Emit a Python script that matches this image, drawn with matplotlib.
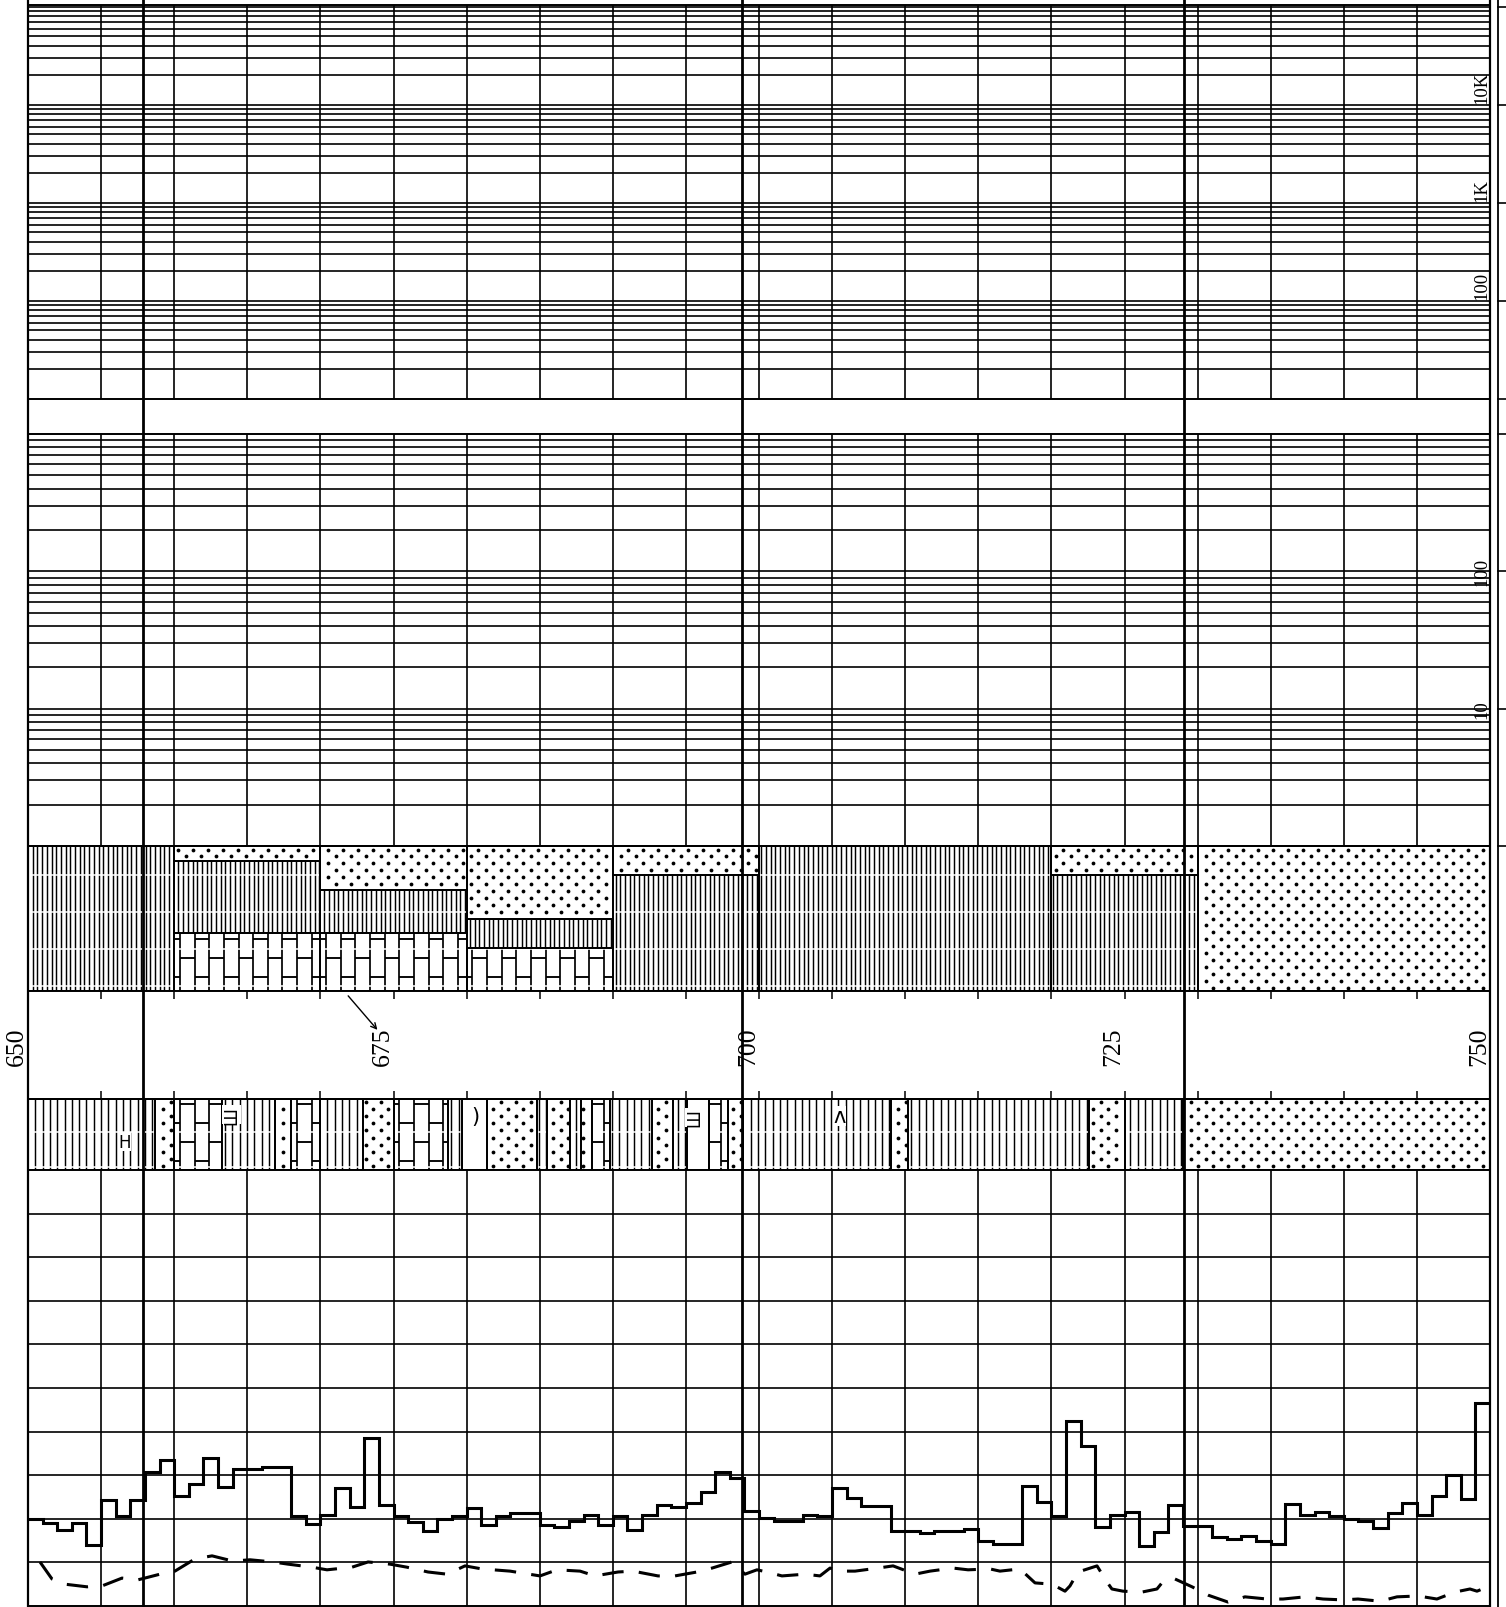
import numpy as np
import matplotlib
matplotlib.use("Agg")
import matplotlib.pyplot as plt
from matplotlib.lines import Line2D
from matplotlib.patches import Rectangle

plt.rcParams["font.family"] = ["Liberation Serif", "DejaVu Serif", "DejaVu Sans"]

# ---------------- data ----------------
depth_range = (650, 750)
depth_labels = [650, 675, 700, 725, 750]
splice_depths = [657.9, 698.85, 729.05]

# resistivity grids (log scales)
deep_limits = (10, 10 ** 5.02)
deep_decades = [10, 100, 1000, 10000, 100000]
deep_labels = [(10000, "10K"), (1000, "1K"), (100, "100")]
shallow_limits = (1, 1000)
shallow_decades = [1, 10, 100, 1000]
shallow_labels = [(100, "100"), (10, "10")]

# interpreted lithology, percent of each interval
lith_top = [650, 660, 670, 680, 690, 700, 720, 730]
lith_base = [660, 670, 680, 690, 700, 720, 730, 750]
lith_sand = [0, 10, 30, 50, 20, 0, 20, 100]
lith_shale = [100, 50, 30, 20, 80, 100, 80, 0]
lith_lime = [0, 40, 40, 30, 0, 0, 0, 0]

# described lithology column
desc_top = [650.0, 658.7, 660.0, 663.3, 666.9, 668.0, 670.0, 672.9, 675.0,
            678.7, 679.7, 681.4, 684.8, 685.5, 687.1, 687.8, 688.6, 689.8,
            692.7, 694.1, 695.1, 696.6, 697.9, 698.9, 709.0, 710.2, 722.6,
            725.0, 729.0]
desc_base = desc_top[1:] + [750.0]
desc_rock = ["sh", "ss", "ls", "sh", "ss", "ls", "sh", "ss", "ls",
             "sh", "bl", "ss", "sh", "ss", "sh", "ss", "ls", "sh",
             "ss", "sh", "bl", "ls", "ss", "sh", "ss", "sh", "ss",
             "sh", "ss"]

# accessory symbols in the described column
sym_depth = [656.6, 663.9, 680.6, 695.6, 705.5]
sym_level = [40, 78, 76, 74, 76]
sym_text = ["H", "Ш", ")", "Ш", "ʌ"]
sym_rot = [0, 90, 0, 90, 0]
sym_size = [12, 12, 15, 12, 15]

# stepped curve, one sample per metre
curve_edges = np.arange(650, 751)
curve_vals = [2.0, 1.9, 1.75, 1.9, 1.4, 2.43, 2.07, 2.43, 3.07, 3.35,
              2.52, 2.8, 3.4, 2.73, 3.14, 3.14, 3.18, 3.18, 2.07, 1.89,
              2.09, 2.7, 2.27, 3.85, 2.32, 2.07, 1.92, 1.72, 2.0, 2.07,
              2.25, 1.86, 2.07, 2.13, 2.13, 1.86, 1.81, 1.95, 2.09, 1.86,
              2.06, 1.74, 2.09, 2.32, 2.27, 2.36, 2.61, 3.07, 2.93, 2.18,
              2.02, 1.95, 1.95, 2.09, 2.06, 2.7, 2.48, 2.3, 2.3, 1.72,
              1.72, 1.67, 1.72, 1.72, 1.77, 1.49, 1.42, 1.42, 2.75, 2.38,
              2.07, 4.24, 3.67, 1.81, 2.09, 2.16, 1.38, 1.7, 2.32, 1.84,
              1.84, 1.58, 1.54, 1.6, 1.49, 1.42, 2.34, 2.09, 2.16, 2.06,
              2.0, 1.95, 1.79, 2.13, 2.36, 2.09, 2.52, 3.0, 2.45, 4.66]

# dashed curve
dash_depth = [650.82, 651.64, 652.53, 654.04, 655.06, 656.43, 657.52, 659.03, 660.05, 661.42,
              662.59, 664.02, 665.18, 666.76, 667.78, 669.43, 670.45, 672.16, 673.26, 674.76,
              675.92, 677.36, 678.66, 679.89, 681.05, 682.97, 685.02, 686.18, 687.76, 688.78,
              690.36, 691.38, 693.09, 694.25, 695.76, 696.79, 698.15, 699.04, 699.86, 700.55,
              701.57, 703.15, 704.17, 704.86, 705.54, 706.57, 708.14, 709.17, 710.67, 711.70,
              713.27, 714.30, 715.80, 716.48, 717.85, 718.88, 720.04, 720.93, 721.27, 721.82,
              723.12, 723.80, 724.14, 724.90, 726.20, 727.22, 727.56, 728.32, 729.62, 730.71,
              732.08, 733.24, 734.75, 735.84, 737.35, 738.58, 739.95, 740.97, 742.48, 743.64,
              745.08, 746.37, 747.61, 748.63, 749.11, 750.0]
dash_vals = [1.01, 0.62, 0.50, 0.44, 0.46, 0.64, 0.60, 0.73, 0.80, 1.08,
             1.15, 1.03, 1.06, 1.01, 0.96, 0.89, 0.83, 0.89, 1.01, 0.96,
             0.89, 0.78, 0.73, 0.92, 0.85, 0.80, 0.69, 0.83, 0.80, 0.69,
             0.78, 0.80, 0.69, 0.69, 0.78, 0.87, 1.01, 0.73, 0.83, 0.78,
             0.69, 0.73, 0.69, 0.87, 0.80, 0.80, 0.87, 0.92, 0.73, 0.80,
             0.87, 0.83, 0.85, 0.80, 0.85, 0.53, 0.50, 0.34, 0.46, 0.78,
             0.92, 0.55, 0.39, 0.34, 0.32, 0.39, 0.53, 0.64, 0.44, 0.25,
             0.09, 0.21, 0.16, 0.16, 0.21, 0.16, 0.14, 0.16, 0.11, 0.21,
             0.23, 0.16, 0.32, 0.39, 0.34, 0.46]

# ---------------- layout ----------------
W, H = 1506, 1608
fig = plt.figure(figsize=(W / 100, H / 100), dpi=100)
fig.patch.set_facecolor("white")

GRID_LW = 1.2
FRAME_LW = 1.4


def axes_at(x0, y0, x1, y1, **kw):
    return fig.add_axes([x0 / W, 1 - y1 / H, (x1 - x0) / W, (y1 - y0) / H], **kw)


def bare(ax):
    ax.set_xlim(*depth_range)
    ax.tick_params(left=False, bottom=False, labelleft=False, labelbottom=False,
                   which="both")
    for s in ax.spines.values():
        s.set_linewidth(FRAME_LW)


def depth_grid(ax):
    ax.vlines(np.arange(655, 750, 5), 0, 1, transform=ax.get_xaxis_transform(),
              color="k", lw=GRID_LW, zorder=1)


def log_grid(ax, decades):
    lo, hi = ax.get_ylim()
    for d in decades:
        for k in range(1, 10):
            v = k * d
            if lo < v < hi:
                ax.axhline(v, color="k", lw=GRID_LW, zorder=1)


def px_scale(ax):
    pos = ax.get_position()
    x0, x1 = ax.get_xlim()
    y0, y1 = ax.get_ylim()
    return pos.width * W / (x1 - x0), pos.height * H / (y1 - y0)


def shale(ax, x0, x1, y0, y1, spacing_px):
    sx, _ = px_scale(ax)
    step = spacing_px / sx
    ks = np.arange(np.floor((x0 - 650) / step), np.ceil((x1 - 650) / step) + 1)
    xs = 650 + ks * step
    xs = xs[(xs > x0 + 0.6 / sx) & (xs < x1 - 0.6 / sx)]
    ax.vlines(xs, y0, y1, color="k", lw=1.05, zorder=2)


def sand(ax, x0, x1, y0, y1, dx_px=15.0, dy_px=6.9):
    sx, sy = px_scale(ax)
    dx, dy = dx_px / sx, dy_px / sy
    pts_x, pts_y = [], []
    for r in range(int(np.floor(y0 / dy)) - 1, int(np.ceil(y1 / dy)) + 2):
        yy = (r + 0.5) * dy
        if not (y0 + 2.2 / sy < yy < y1 - 2.2 / sy):
            continue
        shift = 0.5 * dx if r % 2 else 0.0
        ks = np.arange(np.floor((x0 - 650) / dx) - 1, np.ceil((x1 - 650) / dx) + 2)
        xx = 650 + ks * dx + shift
        xx = xx[(xx > x0 + 2.2 / sx) & (xx < x1 - 2.2 / sx)]
        pts_x.extend(xx)
        pts_y.extend([yy] * len(xx))
    ax.scatter(pts_x, pts_y, s=7.5, c="k", marker="o", linewidths=0, zorder=2)


def brick(ax, x0, x1, y0, y1, period, off_even, off_odd, col0=650.4, col_w=1.0):
    k0 = int(np.floor((x0 - col0) / col_w))
    k1 = int(np.ceil((x1 - col0) / col_w))
    edges = [col0 + k * col_w for k in range(k0, k1 + 1)]
    inner = [e for e in edges if x0 + 0.05 < e < x1 - 0.05]
    ax.vlines(inner, y0, y1, color="k", lw=1.25, zorder=2)
    for k in range(k0, k1 + 1):
        cx0 = max(x0, col0 + k * col_w)
        cx1 = min(x1, col0 + (k + 1) * col_w)
        if cx1 - cx0 < 0.05:
            continue
        off = off_odd if k % 2 else off_even
        ys = off + period * np.arange(-6, 12)
        ys = ys[(ys > y0 + 1) & (ys < y1 - 1)]
        ax.hlines(ys, cx0, cx1, color="k", lw=1.35, zorder=2)


def breaks(ax, x0, x1, levels):
    ax.hlines(levels, x0, x1, color="white", lw=1.1, zorder=3)


def outline(ax, x0, x1, y0, y1):
    ax.add_patch(Rectangle((x0, y0), x1 - x0, y1 - y0, fill=False, ec="k",
                           lw=1.3, zorder=4))


# ---- deep resistivity grid ----
ax_r1 = axes_at(28, 6, 1490, 400)
ax_r1.set_yscale("log")
ax_r1.set_ylim(*deep_limits)
bare(ax_r1)
depth_grid(ax_r1)
log_grid(ax_r1, deep_decades)
for v, s in deep_labels:
    ax_r1.text(750, v * 1.04, s, rotation=90, ha="right", va="bottom", fontsize=13.5,
               zorder=5)

# ---- shallow resistivity grid ----
ax_r2 = axes_at(28, 435, 1490, 847)
ax_r2.set_yscale("log")
ax_r2.set_ylim(*shallow_limits)
bare(ax_r2)
depth_grid(ax_r2)
log_grid(ax_r2, shallow_decades)
for v, s in shallow_labels:
    ax_r2.text(750, v, s, rotation=90, ha="right", va="center", fontsize=13.5,
               zorder=5)

# ---- interpreted lithology band ----
ax_l1 = axes_at(28, 847, 1490, 992)
ax_l1.set_ylim(0, 100)
bare(ax_l1)
band1_breaks = [3.5, 29, 54.5, 80]
for t, b, ss, sh, ls in zip(lith_top, lith_base, lith_sand, lith_shale, lith_lime):
    if ss > 0:
        sand(ax_l1, t, b, 100 - ss, 100)
        outline(ax_l1, t, b, 100 - ss, 100)
    if sh > 0:
        shale(ax_l1, t, b, ls, 100 - ss, spacing_px=4.7)
        breaks(ax_l1, t, b, [v for v in band1_breaks if ls < v < 100 - ss])
        outline(ax_l1, t, b, ls, 100 - ss)
    if ls > 0:
        brick(ax_l1, t, b, 0, ls, period=26.4, off_even=22.9, off_odd=9.7)
        breaks(ax_l1, t, b, [v for v in band1_breaks if 0 < v < ls])
        outline(ax_l1, t, b, 0, ls)

# ---- depth scale ----
ax_lab = axes_at(28, 992, 1490, 1100)
ax_lab.set_xlim(*depth_range)
ax_lab.set_ylim(0, 1)
ax_lab.set_xticks(np.arange(650, 751, 5))
ax_lab.set_yticks([])
ax_lab.tick_params(axis="x", direction="in", top=True, bottom=True, length=6,
                   width=1.1, labelbottom=False)
for s in ax_lab.spines.values():
    s.set_linewidth(FRAME_LW)
for d in depth_labels:
    ax_lab.text(d, 0.49, str(d), rotation=90, ha="right", va="center", fontsize=18.5)
ax_lab.annotate("", xy=(673.9, 0.64), xytext=(671.9, 0.955),
                arrowprops=dict(arrowstyle="->", lw=1.0, color="k",
                                shrinkA=0, shrinkB=0))

# ---- described lithology column ----
ax_l2 = axes_at(28, 1100, 1490, 1171)
ax_l2.set_ylim(0, 100)
bare(ax_l2)
band2_breaks = [4, 54]
for t, b, rock in zip(desc_top, desc_base, desc_rock):
    if rock == "sh":
        shale(ax_l2, t, b, 0, 100, spacing_px=7.3)
        breaks(ax_l2, t, b, band2_breaks)
    elif rock == "ss":
        sand(ax_l2, t, b, 0, 100, dy_px=7.2)
    elif rock == "ls":
        brick(ax_l2, t, b, 0, 100, period=53.5, off_even=39.4, off_odd=12.7)
        breaks(ax_l2, t, b, band2_breaks)
    outline(ax_l2, t, b, 0, 100)
for d, lv, s, r, fs in zip(sym_depth, sym_level, sym_text, sym_rot, sym_size):
    ax_l2.text(d, lv, s, rotation=r, ha="center", va="center", fontsize=fs,
               family=["DejaVu Sans"], bbox=dict(fc="white", ec="none", pad=0.3),
               zorder=5)

# ---- bottom curve track ----
ax_c = axes_at(28, 1171, 1490, 1607)
ax_c.set_ylim(0, 10)
bare(ax_c)
depth_grid(ax_c)
for v in range(1, 10):
    ax_c.axhline(v, color="k", lw=GRID_LW, zorder=1)
ax_c.stairs(curve_vals, curve_edges, baseline=None, color="k", lw=2.2, zorder=3)
ax_c.plot(dash_depth, dash_vals, color="k", lw=2.2, ls=(0, (7.0, 5.0)),
          solid_capstyle="butt", zorder=3)

# ---- full-height frame and splice lines ----
ax_ov = axes_at(28, 0, 1490, 1608)
ax_ov.set_xlim(*depth_range)
ax_ov.set_ylim(0, 1)
ax_ov.axis("off")
ax_ov.patch.set_visible(False)
ax_ov.vlines(splice_depths, 0, 1, color="k", lw=2.0, zorder=6)
ax_ov.vlines(depth_range, 0, 1, color="k", lw=1.6, clip_on=False, zorder=6)

# right-hand rule with decade ticks
rule_x = 1498 / W
fig.add_artist(Line2D([rule_x, rule_x], [0, 1], color="k", lw=1.3))
for ax, decs in ((ax_r1, deep_decades), (ax_r2, shallow_decades)):
    for v in decs:
        yf = ax.transData.transform((700, v))[1] / H
        if 0 <= yf <= 1:
            fig.add_artist(Line2D([rule_x, 1506 / W], [yf, yf], color="k", lw=1.2))

fig.savefig("out.png", dpi=100, facecolor="white")
